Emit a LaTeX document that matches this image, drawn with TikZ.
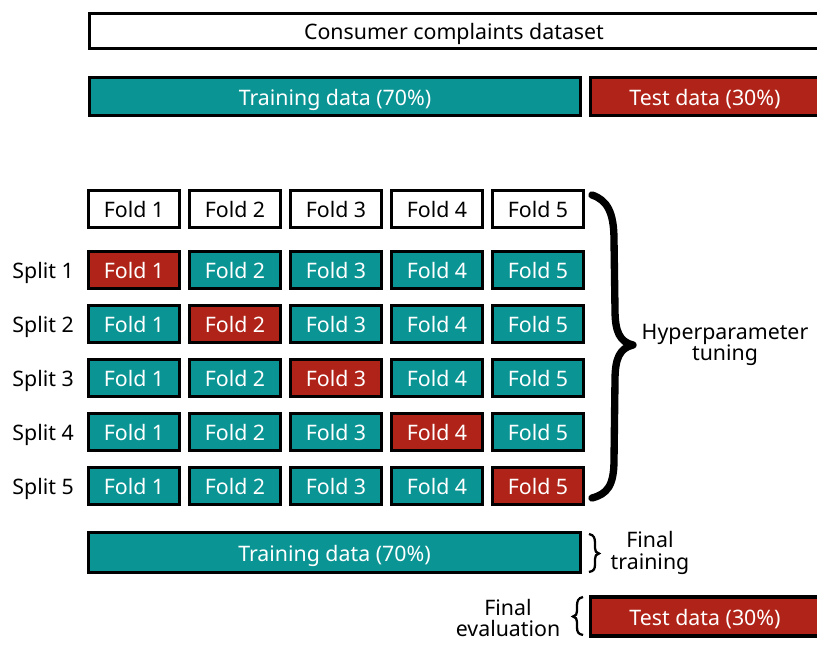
\documentclass[tikz,border=0pt]{standalone}
\usepackage{fontspec}
\setmainfont{Noto Sans}
\definecolor{teal}{RGB}{11,148,148}
\definecolor{redc}{RGB}{176,35,24}
\begin{document}
\begin{tikzpicture}[x=0.75pt,y=-0.75pt,
  box/.style={draw=black, line width=2.5pt, inner sep=0pt, font=\fontsize{16}{19}\selectfont, text height=13pt, text depth=0pt, minimum height=37*0.75pt},
  fold/.style={box, minimum width=91.5*0.75pt},
  wht/.style={fill=white, text=black},
  trn/.style={fill=teal, text=white},
  tst/.style={fill=redc, text=white},
  lbl/.style={font=\fontsize{16}{19}\selectfont, inner sep=0pt, align=center},
  splitlbl/.style={font=\fontsize{16}{19}\selectfont, inner sep=0pt, text height=13pt, text depth=0pt},
  brc/.style={line width=5.5pt, line cap=round, line join=round}
]
\useasboundingbox (0,0) rectangle (817,644);
\node[box, wht, minimum width=729*0.75pt, minimum height=35*0.75pt] (all) at (454,31) {Consumer complaints dataset};
\node[box, trn, minimum width=491*0.75pt, minimum height=38*0.75pt] (train) at (335,96.5) {Training data (70\%)};
\node[box, tst, minimum width=229*0.75pt, minimum height=38*0.75pt] (test) at (705,96.5) {Test data (30\%)};
% header folds
\foreach \c/\x in {1/134,2/235,3/336,4/437,5/538}{
  \node[fold, wht] (h\c) at (\x,209) {Fold \c};
}
% splits
\foreach \r/\y in {1/270,2/324,3/378,4/432,5/486}{
  \node[splitlbl, anchor=east] (s\r) at (74,\y) {Split \r};
  \foreach \c/\x in {1/134,2/235,3/336,4/437,5/538}{
    \ifnum\c=\r
      \node[fold, tst] (f\r\c) at (\x,\y) {Fold \c};
    \else
      \node[fold, trn] (f\r\c) at (\x,\y) {Fold \c};
    \fi
  }
}
% big brace
\draw[brc] (592,195) .. controls (607,200) and (614,212) .. (614,240) -- (615,310) .. controls (615,332) and (620,342) .. (633,345) .. controls (620,348) and (615,358) .. (615,380) -- (614,460) .. controls (614,486) and (607,494) .. (592,498);
\node[lbl] (hyp) at (725,345) {Hyperparameter\\[-3pt]tuning};
% final training
\node[box, trn, minimum width=492*0.75pt, minimum height=39.5*0.75pt] (train2) at (334.5,552.5) {Training data (70\%)};
\draw[line width=1.7pt] (589,534) .. controls (594,535) and (595,538) .. (595,543) -- (595,548) .. controls (595,551) and (596,553) .. (599,553.5) .. controls (596,554) and (595,556) .. (595,559) -- (595,564) .. controls (595,569) and (594,571) .. (589,572);
\node[lbl] (ftr) at (650,553) {Final\\[-3pt]training};
% final evaluation
\node[box, tst, minimum width=229*0.75pt, minimum height=39*0.75pt] (test2) at (705,616.5) {Test data (30\%)};
\draw[line width=1.7pt] (583,597) .. controls (578,598) and (577,601) .. (577,606) -- (577,611) .. controls (577,614) and (576,616) .. (573,616.5) .. controls (576,617) and (577,619) .. (577,622) -- (577,627) .. controls (577,632) and (578,634) .. (583,635);
\node[lbl] (fev) at (508,618) {Final\\[-3pt]evaluation};
\end{tikzpicture}
\end{document}
